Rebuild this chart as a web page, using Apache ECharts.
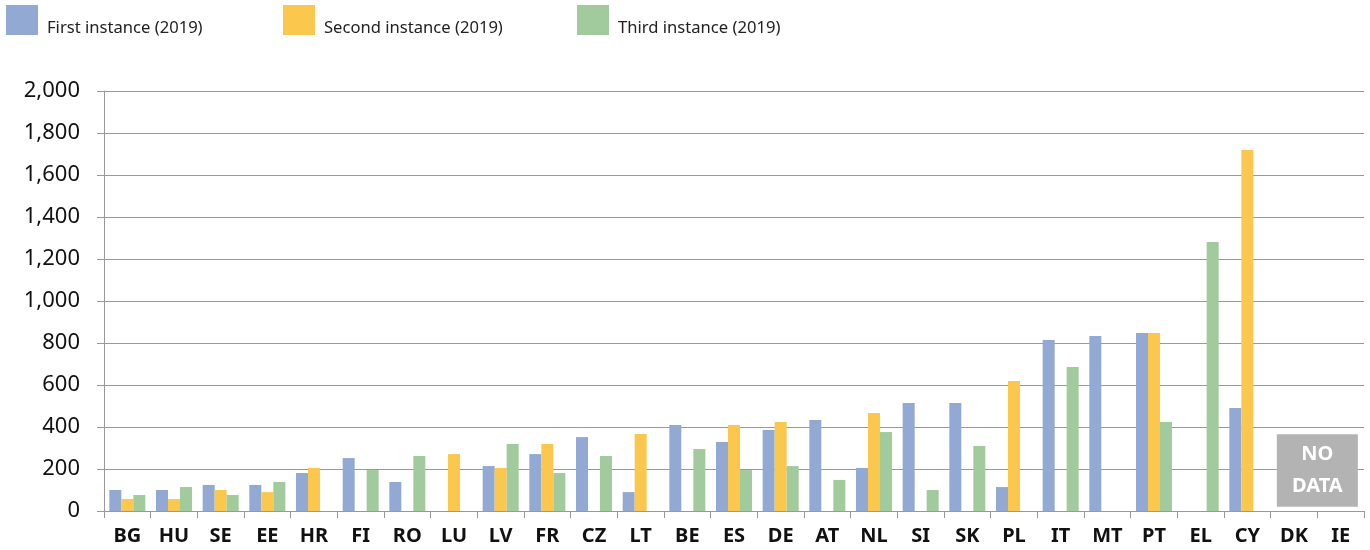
<!DOCTYPE html>
<html>
<head>
<meta charset="utf-8">
<script src="https://cdn.jsdelivr.net/npm/echarts@6/dist/echarts.min.js"></script>
<style>
  html, body { margin: 0; padding: 0; background: #fff; }
  #main { width: 1370px; height: 550px; }
</style>
</head>
<body>
<div id="main"></div>
<script>
// categories (member states)
var countries = ['BG', 'HU', 'SE', 'EE', 'HR', 'FI', 'RO', 'LU', 'LV', 'FR', 'CZ', 'LT', 'BE', 'ES',
  'DE', 'AT', 'NL', 'SI', 'SK', 'PL', 'IT', 'MT', 'PT', 'EL', 'CY', 'DK', 'IE'];

// series values (null = no bar)
var firstInstance = [100, 100, 124, 124, 181, 252, 138, null, 214, 271, 352, 90, 410, 329,
  386, 433, 205, 514, 514, 114, 814, 833, 848, null, 490, null, null];
var secondInstance = [57, 57, 100, 90, 205, null, null, 271, 205, 319, null, 367, null, 410,
  424, null, 467, null, null, 619, null, null, 848, null, 1719, null, null];
var thirdInstance = [76, 114, 76, 138, null, 195, 262, null, 319, 181, 262, null, 295, 195,
  214, 148, 376, 100, 310, null, 686, null, 424, 1281, null, null, null];

var seriesNames = ['First instance (2019)', 'Second instance (2019)', 'Third instance (2019)'];
var colors = ['#92a9d4', '#fcc74d', '#a1cb9c'];
var legendLeft = [6, 283, 577];

// no-data countries, marked by a grey box
var noDataCountries = ['DK', 'IE'];

function addCommas(v) {
  return String(v).replace(/\B(?=(\d{3})+(?!\d))/g, ',');
}

var chart = echarts.init(document.getElementById('main'));

var seriesData = [firstInstance, secondInstance, thirdInstance];
var series = seriesData.map(function (d, i) {
  return {
    name: seriesNames[i],
    type: 'bar',
    data: d,
    barWidth: 12,
    barGap: '0%',
    itemStyle: { color: colors[i] },
    emphasis: { disabled: true }
  };
});

// one legend per series so each sits where it does in the original
var legends = seriesNames.map(function (name, i) {
  return {
    left: legendLeft[i],
    top: 5,
    padding: 0,
    itemWidth: 32,
    itemHeight: 30,
    itemGap: 0,
    icon: 'rect',
    data: [name],
    selectedMode: false,
    formatter: function (n) { return '{t|' + n + '}'; },
    textStyle: {
      fontSize: 16.6,
      color: '#222',
      rich: { t: { fontSize: 16.6, color: '#222', padding: [16, 0, 0, 4] } }
    }
  };
});

var option = {
  animation: false,
  color: colors,
  textStyle: { fontFamily: 'Noto Sans' },
  legend: legends,
  grid: { left: 104, right: 6, top: 91, bottom: 39, containLabel: false },
  xAxis: {
    type: 'category',
    data: countries,
    axisLine: { lineStyle: { color: '#999', width: 1 } },
    axisTick: { show: true, length: 7, lineStyle: { color: '#999' } },
    axisLabel: { fontSize: 20, fontWeight: 'bold', color: '#111', margin: 15, interval: 0 }
  },
  yAxis: {
    type: 'value',
    min: 0,
    max: 2000,
    interval: 200,
    axisLine: { show: true, lineStyle: { color: '#999', width: 1 } },
    axisTick: { show: true, length: 7, lineStyle: { color: '#999' } },
    splitLine: { lineStyle: { color: '#999', width: 1 } },
    axisLabel: { fontSize: 22, color: '#111', margin: 24, formatter: function (v) { return addCommas(v); } }
  },
  series: series
};

chart.setOption(option);

// grey "NO DATA" box over the countries without data
var p1 = chart.convertToPixel({ xAxisIndex: 0, yAxisIndex: 0 }, [noDataCountries[0], 365]);
var p2 = chart.convertToPixel({ xAxisIndex: 0, yAxisIndex: 0 }, [noDataCountries[1], 20]);
var cx = (p1[0] + p2[0]) / 2;
var boxW = 81;
chart.setOption({
  graphic: [{
    type: 'group',
    children: [{
      type: 'rect',
      shape: { x: cx - boxW / 2, y: p1[1], width: boxW, height: p2[1] - p1[1] },
      style: { fill: '#b3b3b3' }
    }, {
      type: 'text',
      style: {
        x: cx,
        y: (p1[1] + p2[1]) / 2,
        text: 'NO\nDATA',
        fill: '#fff',
        font: 'bold 20px "Noto Sans"',
        lineHeight: 32,
        align: 'center',
        verticalAlign: 'middle'
      }
    }]
  }]
});
</script>
</body>
</html>
